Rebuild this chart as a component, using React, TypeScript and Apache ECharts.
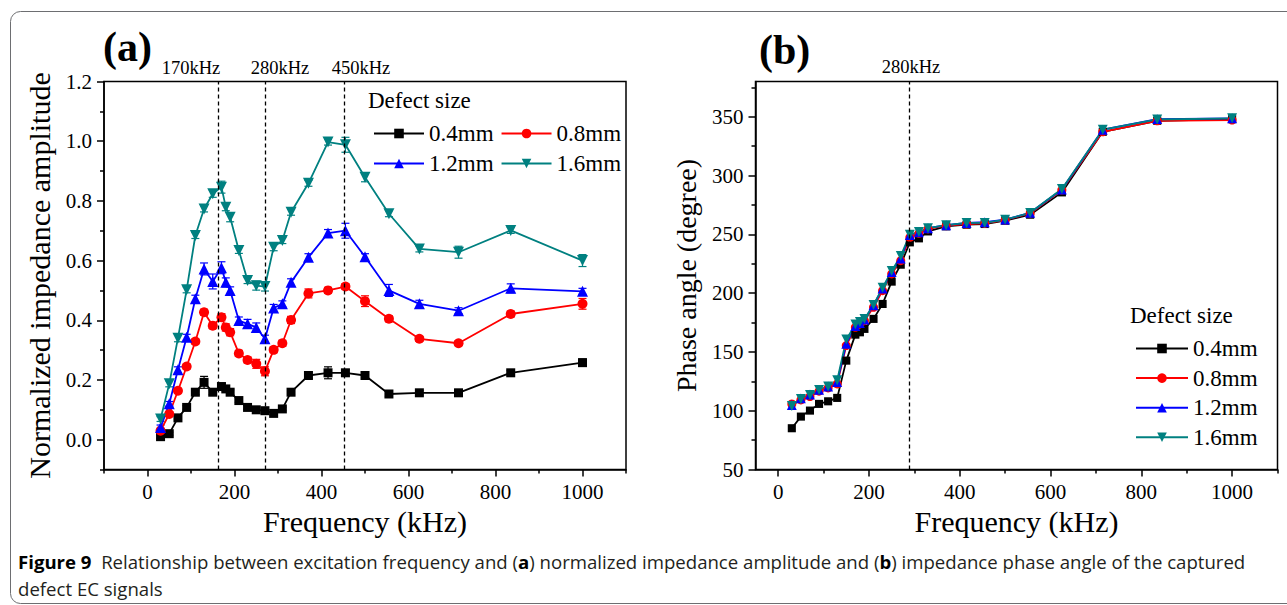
import React, { useEffect, useRef } from 'react';
import * as echarts from 'echarts';

// ---------------- data ----------------
const freqs = [30, 50, 70, 90, 110, 130, 150, 170, 180, 190, 210, 230, 250, 270, 290, 310, 330, 370, 415, 455, 500, 555, 625, 715, 835, 1000];
const seriesNames = ['0.4mm', '0.8mm', '1.2mm', '1.6mm'];

// (a) normalized impedance amplitude
const amp04 = [0.01, 0.02, 0.073, 0.108, 0.159, 0.192, 0.159, 0.178, 0.17, 0.159, 0.131, 0.108, 0.1, 0.097, 0.088, 0.103, 0.159, 0.215, 0.224, 0.224, 0.215, 0.153, 0.157, 0.157, 0.224, 0.258];
const amp08 = [0.03, 0.086, 0.164, 0.245, 0.329, 0.427, 0.382, 0.41, 0.376, 0.36, 0.289, 0.267, 0.254, 0.229, 0.301, 0.323, 0.401, 0.49, 0.5, 0.513, 0.464, 0.405, 0.338, 0.323, 0.421, 0.455];
const amp12 = [0.041, 0.12, 0.234, 0.343, 0.472, 0.572, 0.53, 0.576, 0.527, 0.5, 0.399, 0.388, 0.376, 0.338, 0.441, 0.455, 0.527, 0.611, 0.692, 0.7, 0.613, 0.5, 0.455, 0.432, 0.507, 0.497];
const amp16 = [0.069, 0.187, 0.34, 0.502, 0.684, 0.773, 0.824, 0.846, 0.779, 0.745, 0.634, 0.533, 0.516, 0.513, 0.645, 0.667, 0.762, 0.859, 0.997, 0.988, 0.879, 0.757, 0.639, 0.628, 0.701, 0.6];

// error bars for (a)
const err04 = [0.005, 0.005, 0.006, 0.006, 0.008, 0.02, 0.008, 0.01, 0.008, 0.008, 0.006, 0.006, 0.006, 0.006, 0.006, 0.006, 0.008, 0.01, 0.02, 0.01, 0.01, 0.008, 0.008, 0.008, 0.008, 0.012];
const err08 = [0.006, 0.008, 0.008, 0.008, 0.008, 0.01, 0.01, 0.012, 0.012, 0.012, 0.01, 0.01, 0.015, 0.015, 0.01, 0.01, 0.012, 0.015, 0.01, 0.01, 0.018, 0.01, 0.008, 0.008, 0.01, 0.018];
const err12 = [0.008, 0.008, 0.01, 0.01, 0.012, 0.02, 0.025, 0.02, 0.015, 0.012, 0.012, 0.015, 0.015, 0.012, 0.012, 0.01, 0.012, 0.012, 0.012, 0.025, 0.01, 0.02, 0.012, 0.01, 0.015, 0.01];
const err16 = [0.008, 0.01, 0.012, 0.01, 0.01, 0.01, 0.012, 0.02, 0.012, 0.015, 0.01, 0.01, 0.015, 0.015, 0.012, 0.01, 0.01, 0.01, 0.01, 0.025, 0.015, 0.01, 0.01, 0.02, 0.01, 0.02];

// (b) phase angle (degree)
const ph04 = [85.1, 95, 100.1, 105.8, 108, 110.9, 142.6, 164.7, 166.7, 169.6, 178.1, 190.8, 209.8, 224.2, 243.2, 246.6, 252.5, 256.8, 258.2, 258.8, 261.6, 266.7, 285.7, 337.2, 346.6, 348];
const ph08 = [105.8, 109.2, 112, 116.6, 119.4, 122.8, 155.4, 170.9, 173.8, 176.6, 188, 202.1, 216.3, 227.6, 247.4, 250.8, 254.6, 257.4, 258.8, 259.3, 262.2, 267.8, 287.7, 337.2, 346.6, 347.2];
const ph12 = [104.9, 110.5, 113.8, 117.7, 120.6, 124.4, 157, 172, 174.6, 177.5, 189.7, 203.9, 218, 229.4, 249.5, 251.7, 255.2, 257.8, 259.7, 260.3, 262.5, 268.3, 288.2, 339, 348, 348.7];
const ph16 = [104, 110, 113.5, 117.7, 120.6, 125.9, 160.7, 173.4, 175.4, 178.1, 190, 204.6, 218.9, 231.7, 249.7, 252, 255.2, 257.8, 259.7, 259.7, 262.5, 268.3, 288.6, 339, 347.7, 348.7];

// marker lines (kHz) and their labels
const markA = [163, 270, 453];
const markALabels = ['170kHz', '280kHz', '450kHz'];
const markB = [288];
const markBLabels = ['280kHz'];

// ticks
const xMajorTicks = [0, 200, 400, 600, 800, 1000];
const xMinorTicksA = [-100, 100, 300, 500, 700, 900, 1100];
const xMinorTicksB = [100, 300, 500, 700, 900, 1100];
const yMajorTicksA = [0, 0.2, 0.4, 0.6, 0.8, 1.0, 1.2];
const yMinorTicksA = [-0.1, 0.1, 0.3, 0.5, 0.7, 0.9, 1.1];
const yMajorTicksB = [50, 100, 150, 200, 250, 300, 350];
const yMinorTicksB = [75, 125, 175, 225, 275, 325, 375];

const FONT = 'Liberation Serif';
const CAPFONT = 'Open Sans';

const styles = [
  { color: '#000000', symbol: 'rect', size: 9, rotate: 0 },
  { color: '#ff0000', symbol: 'circle', size: 10, rotate: 0 },
  { color: '#0000ff', symbol: 'triangle', size: 11, rotate: 0 },
  { color: '#008080', symbol: 'triangle', size: 11, rotate: 180 },
];

const GA = { left: 104, top: 81.5, width: 522, height: 388 };
const GB = { left: 755.5, top: 81.5, width: 522, height: 388 };

function majorX(gridIndex: number, min: number, max: number) {
  return {
    type: 'value', gridIndex, min, max, position: 'bottom',
    axisLine: { show: true, onZero: false, lineStyle: { color: '#000', width: 1.5 } },
    axisTick: { show: true, inside: false, length: 7, lineStyle: { color: '#000', width: 1.5 }, customValues: xMajorTicks },
    axisLabel: { show: false },
    splitLine: { show: false },
  };
}
function minorX(gridIndex: number, min: number, max: number, ticks: number[]) {
  return {
    type: 'value', gridIndex, min, max, position: 'bottom',
    axisLine: { show: false, onZero: false },
    axisTick: { show: true, inside: false, length: 4, lineStyle: { color: '#000', width: 1.5 }, customValues: ticks },
    axisLabel: { show: false },
    splitLine: { show: false },
  };
}
function majorY(gridIndex: number, min: number, max: number, name: string, gap: number, ticks: number[], nameSize: number) {
  return {
    type: 'value', gridIndex, min, max, position: 'left',
    name, nameLocation: 'middle', nameGap: gap,
    nameTextStyle: { fontFamily: FONT, fontSize: nameSize, color: '#000' },
    axisLine: { show: true, onZero: false, lineStyle: { color: '#000', width: 1.5 } },
    axisTick: { show: true, inside: false, length: 7, lineStyle: { color: '#000', width: 1.5 }, customValues: ticks },
    axisLabel: { show: false },
    splitLine: { show: false },
  };
}
function minorY(gridIndex: number, min: number, max: number, ticks: number[]) {
  return {
    type: 'value', gridIndex, min, max, position: 'left',
    axisLine: { show: false, onZero: false },
    axisTick: { show: true, inside: false, length: 4, lineStyle: { color: '#000', width: 1.5 }, customValues: ticks },
    axisLabel: { show: false },
    splitLine: { show: false },
  };
}

function lineSeries(name: string, vals: number[], si: number, xi: number, yi: number, marks: number[] | null, symScale: number) {
  const s = styles[si];
  const out: any = {
    type: 'line', name, xAxisIndex: xi, yAxisIndex: yi,
    data: freqs.map((f, i) => [f, vals[i]]),
    symbol: s.symbol, symbolSize: s.size * symScale, symbolRotate: s.rotate,
    showSymbol: true, z: 3,
    lineStyle: { color: s.color, width: 1.8 },
    itemStyle: { color: s.color, borderWidth: 0 },
    emphasis: { disabled: true },
  };
  if (marks) {
    out.markLine = {
      silent: true, symbol: ['none', 'none'], animation: false,
      label: { show: false },
      lineStyle: { color: '#000', type: [4, 3], width: 1.3 },
      data: marks.map((m) => ({ xAxis: m })),
    };
  }
  return out;
}

function errSeries(vals: number[], errs: number[], si: number, xi: number, yi: number) {
  const color = styles[si].color;
  return {
    type: 'custom', xAxisIndex: xi, yAxisIndex: yi, silent: true, z: 2,
    data: freqs.map((f, i) => [f, vals[i], errs[i]]),
    encode: { x: 0, y: 1 },
    renderItem: (params: any, api: any) => {
      const f = api.value(0), v = api.value(1), e = api.value(2);
      const lo = api.coord([f, v - e]);
      const hi = api.coord([f, v + e]);
      const w = 4;
      const st = { stroke: color, lineWidth: 1.2 };
      return {
        type: 'group',
        children: [
          { type: 'line', shape: { x1: lo[0], y1: lo[1], x2: hi[0], y2: hi[1] }, style: st },
          { type: 'line', shape: { x1: lo[0] - w, y1: lo[1], x2: lo[0] + w, y2: lo[1] }, style: st },
          { type: 'line', shape: { x1: hi[0] - w, y1: hi[1], x2: hi[0] + w, y2: hi[1] }, style: st },
        ],
      };
    },
  };
}

export default function App() {
  const ref = useRef<HTMLDivElement>(null);
  useEffect(() => {
    if (!ref.current) return;
    const chart = echarts.init(ref.current, undefined, { renderer: 'svg' });
    const ampSets = [amp04, amp08, amp12, amp16];
    const errSets = [err04, err08, err12, err16];
    const phSets = [ph04, ph08, ph12, ph16];

    const series: any[] = [];
    ampSets.forEach((vals, i) => series.push(errSeries(vals, errSets[i], i, 0, 0)));
    ampSets.forEach((vals, i) => series.push(lineSeries(seriesNames[i], vals, i, 0, 0, i === 0 ? markA : null, 1)));
    phSets.forEach((vals, i) => series.push(lineSeries(seriesNames[i], vals, i, 2, 2, i === 0 ? markB : null, 0.9)));

    const legendText = { fontFamily: FONT, fontSize: 23, color: '#000', lineHeight: 22 };

    chart.setOption({
      animation: false,
      backgroundColor: '#ffffff',
      textStyle: { fontFamily: FONT, color: '#000' },
      grid: [
        { ...GA, show: true, borderColor: '#000', borderWidth: 1.5, containLabel: false },
        { ...GB, show: true, borderColor: '#000', borderWidth: 1.5, containLabel: false },
      ],
      xAxis: [
        majorX(0, -100, 1100),
        minorX(0, -100, 1100, xMinorTicksA),
        majorX(1, -50, 1100),
        minorX(1, -50, 1100, xMinorTicksB),
      ],
      yAxis: [
        majorY(0, -0.1, 1.2, 'Normalized impedance amplitude', 50, yMajorTicksA, 30),
        minorY(0, -0.1, 1.2, yMinorTicksA),
        majorY(1, 50, 380, 'Phase angle (degree)', 55, yMajorTicksB, 28),
        minorY(1, 50, 380, yMinorTicksB),
      ],
      legend: [
        {
          data: seriesNames, left: 368, top: 117, width: 252, orient: 'horizontal',
          itemWidth: 50, itemHeight: 12, itemGap: 7, selectedMode: false,
          textStyle: legendText,
        },
        {
          data: seriesNames, left: 1130, top: 332, orient: 'vertical',
          itemWidth: 52, itemHeight: 12, itemGap: 6.6, selectedMode: false,
          textStyle: legendText,
        },
      ],
      series,
    });

    // ---- texts placed via the chart's own axis scales ----
    const txt = (x: number, y: number, text: string, size: number, align = 'center', bold = false) => ({
      type: 'text', x, y, silent: true,
      style: { text, fontFamily: FONT, fontSize: size, fontWeight: bold ? 'bold' : 'normal', fill: '#000', align, verticalAlign: 'middle' },
    });
    const px = (xi: number, v: number) => chart.convertToPixel({ xAxisIndex: xi }, v) as number;
    const py = (yi: number, v: number) => chart.convertToPixel({ yAxisIndex: yi }, v) as number;

    const tickTexts: any[] = [];
    const panels = [
      { xi: 0, yi: 0, xmin: -100, xmax: 1100, ymin: -0.1, yTicks: yMajorTicksA, digits: 1 },
      { xi: 2, yi: 2, xmin: -50, xmax: 1100, ymin: 50, yTicks: yMajorTicksB, digits: 0 },
    ];
    panels.forEach((p) => {
      const axisY = py(p.yi, p.ymin);
      const axisX = px(p.xi, p.xmin);
      xMajorTicks.forEach((v) => tickTexts.push(txt(px(p.xi, v), axisY + 22, String(v), 21)));
      p.yTicks.forEach((v) => tickTexts.push(txt(axisX - 12, py(p.yi, v), v.toFixed(p.digits), 21, 'right')));
      const cx = (px(p.xi, p.xmin) + px(p.xi, p.xmax)) / 2;
      tickTexts.push(txt(cx, axisY + 52, 'Frequency (kHz)', 30));
    });

    const markLabelPos = [191, 280, 361];
    const graphics: any[] = [
      {
        type: 'rect', silent: true, z: -10,
        shape: { x: 10.5, y: 11.5, width: 1300, height: 592, r: 10 },
        style: { fill: 'none', stroke: '#6d6e71', lineWidth: 1 },
      },
      txt(103, 47, '(a)', 42, 'left', true),
      txt(759, 50, '(b)', 42, 'left', true),
      ...markALabels.map((t, i) => txt(markLabelPos[i], 68, t, 18.5)),
      ...markBLabels.map((t) => txt(911, 67, t, 18.5)),
      txt(368, 100, 'Defect size', 23, 'left'),
      txt(1130, 315, 'Defect size', 23, 'left'),
      ...tickTexts,
      {
        type: 'text', x: 18, y: 561, silent: true,
        style: {
          text: '{b|Figure 9}  Relationship between excitation frequency and ({b|a}) normalized impedance amplitude and ({b|b}) impedance phase angle of the captured',
          fontFamily: CAPFONT, fontSize: 18.6, fill: '#231f20', align: 'left', verticalAlign: 'middle',
          rich: { b: { fontFamily: CAPFONT, fontSize: 18.6, fontWeight: 'bold', fill: '#000' } },
        },
      },
      {
        type: 'text', x: 18, y: 588, silent: true,
        style: { text: 'defect EC signals', fontFamily: CAPFONT, fontSize: 18.6, fill: '#231f20', align: 'left', verticalAlign: 'middle' },
      },
    ];
    chart.setOption({ graphic: graphics });
    return () => chart.dispose();
  }, []);
  return <div ref={ref} style={{ position: 'fixed', left: 0, top: 0, width: 1287, height: 605, background: '#fff' }} />;
}
